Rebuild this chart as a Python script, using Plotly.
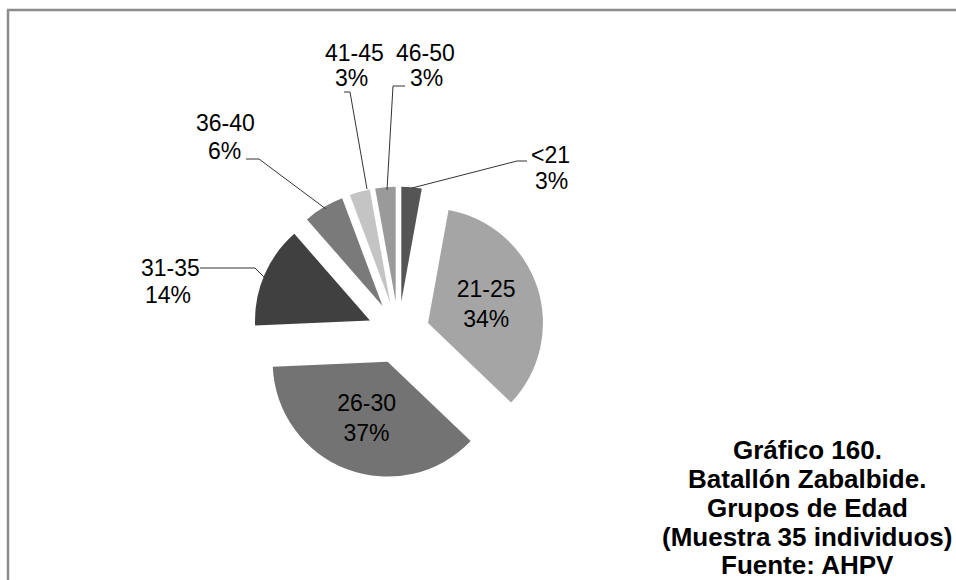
import plotly.graph_objects as go

# ---- data ----
labels = ["<21", "21-25", "26-30", "31-35", "36-40", "41-45", "46-50"]
counts = [1, 12, 13, 5, 2, 1, 1]
title_lines = ["Gráfico 160.", "Batallón Zabalbide.", "Grupos de Edad",
               "(Muestra 35 individuos)", "Fuente: AHPV"]

# ---- style ----
colors = ["#555555", "#a5a5a5", "#737373", "#404040", "#7a7a7a", "#c4c4c4", "#9a9a9a"]
inside_labels = {"21-25", "26-30"}
W, H = 956, 580
FONT = "Liberation Sans, Arial, sans-serif"
LABEL_SIZE = 23

total = sum(counts)
pcts = [round(100 * c / total) for c in counts]
texts = [f"{l}<br>{p}%" if l in inside_labels else "" for l, p in zip(labels, pcts)]


def px(x):
    return x / W


def py(y):
    return 1 - y / H


# pie placement (pixel centre and box size)
cx, cy, box = 398.5, 332.6, 292
fig = go.Figure(go.Pie(
    labels=labels, values=counts, sort=False, direction="clockwise", rotation=0,
    pull=[0.27] * len(counts),
    marker=dict(colors=colors, line=dict(color="white", width=0)),
    text=texts, textinfo="text", textposition="inside",
    insidetextorientation="horizontal",
    textfont=dict(family=FONT, size=LABEL_SIZE, color="black"),
    hoverinfo="label+percent", showlegend=False,
    domain=dict(x=[px(cx - box / 2), px(cx + box / 2)],
                y=[py(cy + box / 2), py(cy - box / 2)]),
))

# outside labels: (label line pos, pct line pos, leader polyline) in pixels
outside = {
    "<21": ((550, 155), (551, 181), [(527, 161), (517, 161), (412, 188)]),
    "46-50": ((425, 53), (426, 78), [(405, 86), (393, 86), (387, 190)]),
    "41-45": ((354, 53), (351, 78), [(344, 92), (350, 92), (367, 189)]),
    "36-40": ((225, 123), (224, 151), [(246, 159), (259, 159), (326, 209)]),
    "31-35": ((170, 268), (168, 295), [(200, 268), (255, 268), (264, 277)]),
}

annotations = []
shapes = []
for lab, p in zip(labels, pcts):
    if lab not in outside:
        continue
    (x1, y1), (x2, y2), path = outside[lab]
    annotations.append(dict(x=px(x1), y=py(y1), xref="paper", yref="paper", text=lab,
                            showarrow=False, xanchor="center", yanchor="middle",
                            borderpad=0,
                            font=dict(family=FONT, size=LABEL_SIZE, color="black")))
    annotations.append(dict(x=px(x2), y=py(y2), xref="paper", yref="paper", text=f"{p}%",
                            showarrow=False, xanchor="center", yanchor="middle",
                            borderpad=0,
                            font=dict(family=FONT, size=LABEL_SIZE, color="black")))
    d = "M " + " L ".join(f"{px(a)} {py(b)}" for a, b in path)
    shapes.append(dict(type="path", path=d, xref="paper", yref="paper",
                       line=dict(color="#333333", width=1)))

title_y = [450, 479, 508, 537, 565]
for t, y in zip(title_lines, title_y):
    annotations.append(dict(x=px(807), y=py(y), xref="paper", yref="paper", text=f"<b>{t}</b>",
                            showarrow=False, xanchor="center", yanchor="middle",
                            borderpad=0,
                            font=dict(family=FONT, size=26, color="black")))

# frame (left and top edges visible)
shapes.append(dict(type="line", xref="paper", yref="paper", x0=px(8), x1=px(8),
                   y0=py(10), y1=-0.1, line=dict(color="#8c8c8c", width=2.5)))
shapes.append(dict(type="line", xref="paper", yref="paper", x0=px(7), x1=1.1,
                   y0=py(10), y1=py(10), line=dict(color="#8c8c8c", width=2.5)))

fig.update_layout(
    width=W, height=H, margin=dict(l=0, r=0, t=0, b=0),
    paper_bgcolor="white", plot_bgcolor="white",
    annotations=annotations, shapes=shapes,
    font=dict(family=FONT),
)

fig.write_html("out.html", config={"displayModeBar": False},
               post_script="document.body.style.margin='0';")
